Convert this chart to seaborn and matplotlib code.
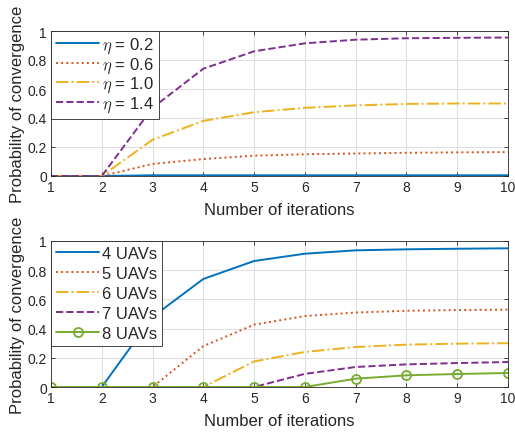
"""Probability of convergence vs number of iterations (two panels)."""

import matplotlib
matplotlib.use("Agg")
import matplotlib.pyplot as plt
import numpy as np
import pandas as pd
import seaborn as sns
from matplotlib.ticker import FuncFormatter

# ---- data ----
iterations = [1, 2, 3, 4, 5, 6, 7, 8, 9, 10]

eta_labels = ["0.2", "0.6", "1.0", "1.4"]
eta_02 = [0, 0, 0.005, 0.005, 0.005, 0.005, 0.005, 0.005, 0.005, 0.005]
eta_06 = [0, 0, 0.083, 0.117, 0.14, 0.15, 0.155, 0.16, 0.163, 0.165]
eta_10 = [0, 0, 0.25, 0.38, 0.44, 0.47, 0.487, 0.497, 0.5, 0.5]
eta_14 = [0, 0, 0.47, 0.74, 0.86, 0.915, 0.94, 0.95, 0.953, 0.955]

uav_labels = ["4 UAVs", "5 UAVs", "6 UAVs", "7 UAVs", "8 UAVs"]
uav_4 = [0, 0, 0.48, 0.74, 0.863, 0.913, 0.936, 0.943, 0.947, 0.95]
uav_5 = [0, 0, 0, 0.28, 0.427, 0.486, 0.51, 0.522, 0.527, 0.53]
uav_6 = [0, 0, 0, 0, 0.175, 0.24, 0.274, 0.29, 0.297, 0.3]
uav_7 = [0, 0, 0, 0, 0, 0.09, 0.137, 0.155, 0.164, 0.171]
uav_8 = [0, 0, 0, 0, 0, 0, 0.057, 0.08, 0.089, 0.096]

COLORS = ["#0072BD", "#D95319", "#EDB120", "#7E2F8E", "#77AC30"]
STYLES = ["-", ":", "-.", "--", "-"]


def setup() -> None:
    sns.set_theme(style="whitegrid")
    plt.rcParams["font.family"] = ["Liberation Sans", "DejaVu Sans"]
    plt.rcParams["mathtext.fontset"] = "cm"
    plt.rcParams["axes.unicode_minus"] = False


def style_axes(ax) -> None:
    ax.set_xlim(1, 10)
    ax.set_ylim(0, 1)
    ax.set_xticks(iterations)
    ax.set_yticks([0, 0.2, 0.4, 0.6, 0.8, 1])
    ax.yaxis.set_major_formatter(FuncFormatter(lambda v, _: f"{v:g}"))
    ax.set_facecolor("white")
    ax.grid(True, color="#DFDFDF", linewidth=0.8)
    for sp in ax.spines.values():
        sp.set_visible(True)
        sp.set_color("#262626")
        sp.set_linewidth(0.6)
    ax.tick_params(direction="in", length=3, width=0.6, colors="#262626",
                   labelsize=10, pad=3, top=True, right=True,
                   bottom=True, left=True, labeltop=False, labelright=False)
    ax.set_xlabel("Number of iterations", fontsize=12, color="#262626", labelpad=6)
    ax.set_ylabel("Probability of convergence", fontsize=12, color="#262626", labelpad=2)


def draw_panel(ax, series, labels, markers, spacing) -> None:
    for i, (vals, lab) in enumerate(zip(series, labels)):
        df = pd.DataFrame({"x": iterations, "y": vals})
        sns.lineplot(data=df, x="x", y="y", ax=ax, color=COLORS[i],
                     linestyle=STYLES[i], linewidth=1.4, label=lab,
                     marker=markers[i], markersize=6.5, markerfacecolor="none",
                     markeredgecolor=COLORS[i], markeredgewidth=1.3)
    style_axes(ax)
    leg = ax.legend(loc="upper left", fontsize=12, frameon=True, fancybox=False,
                    edgecolor="#262626", framealpha=1, borderpad=0.3,
                    handlelength=2.6, handletextpad=0.15, labelspacing=spacing,
                    borderaxespad=0)
    leg.get_frame().set_linewidth(0.6)


def main() -> None:
    setup()
    fig = plt.figure(figsize=(5.15, 4.35), dpi=100)
    ax1 = fig.add_axes([51 / 515, 1 - 177 / 435, 457 / 515, 145 / 435])
    ax2 = fig.add_axes([51 / 515, 1 - 388 / 435, 457 / 515, 146 / 435])

    draw_panel(ax1, [eta_02, eta_06, eta_10, eta_14],
               [rf"$\eta$ = {e}" for e in eta_labels], [None] * 4, 0.0)
    draw_panel(ax2, [uav_4, uav_5, uav_6, uav_7, uav_8],
               uav_labels, [None] * 4 + ["o"], 0.3)

    fig.savefig("out.png", dpi=100)
    plt.close(fig)


if __name__ == "__main__":
    main()
